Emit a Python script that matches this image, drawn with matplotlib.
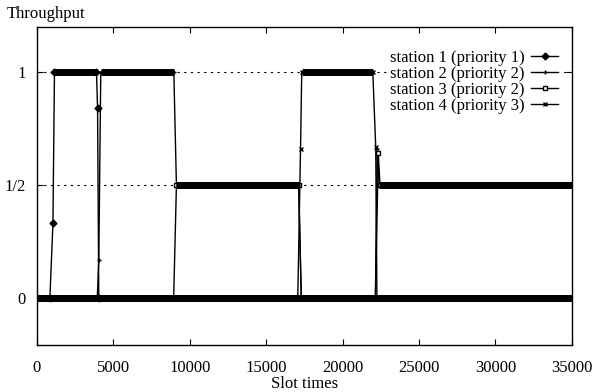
import matplotlib
matplotlib.use("Agg")
import matplotlib.pyplot as plt

plt.rcParams['font.family'] = ['Liberation Serif', 'DejaVu Serif']

# breakpoints of each station's throughput curve (slot time, throughput)
s1_x = [0, 850, 1050, 1150, 3900, 3970, 4050, 35000]
s1_y = [0, 0, 0.33, 1, 1, 0.84, 0, 0]

s2_x = [0, 3950, 4050, 4180, 8960, 9130, 17130, 17300, 22150, 22260, 22400, 35000]
s2_y = [0, 0, 0.17, 1, 1, 0.5, 0.5, 0, 0, 0.66, 0.5, 0.5]

s3_x = [0, 8950, 9130, 17130, 17300, 22150, 22340, 22450, 35000]
s3_y = [0, 0, 0.5, 0.5, 0, 0, 0.64, 0.5, 0.5]

s4_x = [0, 17070, 17250, 17330, 21980, 22170, 22250, 35000]
s4_y = [0, 0, 0.66, 1, 1, 0.67, 0, 0]

labels = ["station 1 (priority 1)", "station 2 (priority 2)",
          "station 3 (priority 2)", "station 4 (priority 3)"]
markers = ["D", "+", "s", "x"]
x_ticks = [0, 5000, 10000, 15000, 20000, 25000, 30000, 35000]
y_ticks = [0, 0.5, 1]
y_ticklabels = ["0", "1/2", "1"]

fig = plt.figure(figsize=(5.95, 3.92), dpi=100)
ax = fig.add_axes([0.062, 0.12, 0.899, 0.811])

series = [(s1_x, s1_y), (s2_x, s2_y), (s3_x, s3_y), (s4_x, s4_y)]
for (xs, ys), lab, mk in zip(series, labels, markers):
    # thin connecting line with markers on the transition points
    ax.plot(xs, ys, color='black', lw=1.0, marker=mk, ms=3.5,
            mfc='white' if mk == 's' else 'black', mec='black', mew=1.0,
            label=lab)
    # plateaus: dense samples in the original form a thick band
    for i in range(len(xs) - 1):
        if ys[i] == ys[i + 1]:
            ax.plot([xs[i], xs[i + 1]], [ys[i], ys[i + 1]], color='black',
                    lw=5, solid_capstyle='butt', zorder=3)

ax.set_xlim(0, 35000)
ax.set_ylim(-0.208, 1.2)
ax.set_xticks(x_ticks)
ax.set_xticklabels([str(t) for t in x_ticks])
ax.set_yticks(y_ticks)
ax.set_yticklabels(y_ticklabels)
ax.tick_params(direction='in', top=True, right=True, length=4, width=0.8,
               labelsize=12)
ax.tick_params(axis='x', pad=11)
ax.tick_params(axis='y', pad=8)
ax.yaxis.grid(True, color='black', linestyle=(0, (2, 4)), lw=0.8)
ax.set_axisbelow(True)
for sp in ax.spines.values():
    sp.set_linewidth(1.0)

ax.set_xlabel("Slot times", fontsize=12, labelpad=0)
fig.text(0.012, 0.965, "Throughput", fontsize=12, va='center', ha='left')

leg = ax.legend(loc='upper right', bbox_to_anchor=(0.99, 0.953), frameon=True,
                markerfirst=False, fontsize=12, labelspacing=0.0,
                handlelength=1.6, handletextpad=0.4, borderaxespad=0.3,
                borderpad=0.2, fancybox=False)
leg.get_frame().set_facecolor('white')
leg.get_frame().set_edgecolor('none')
leg.get_frame().set_alpha(1.0)
for t in leg.get_texts():
    t.set_ha('right')

fig.savefig("out.png", dpi=100)
